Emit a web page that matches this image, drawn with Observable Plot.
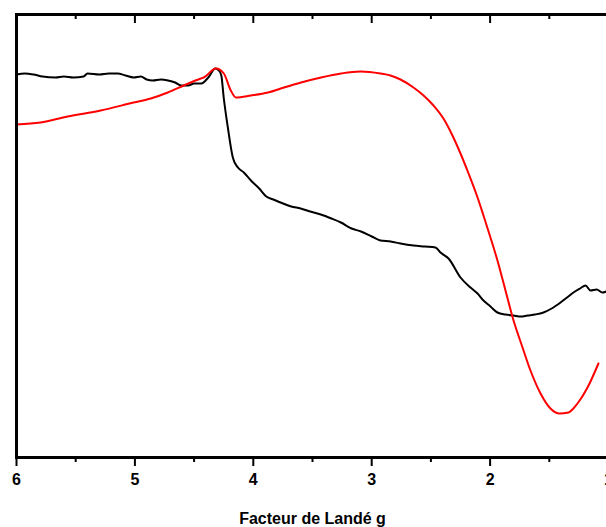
<!DOCTYPE html>
<html><head><meta charset="utf-8">
<script src="https://cdn.jsdelivr.net/npm/d3@7"></script>
<script src="https://cdn.jsdelivr.net/npm/@observablehq/plot@0.6"></script>
<style>
body{margin:0;overflow:hidden;background:#fff}
#chart{width:606px;height:527px;overflow:hidden}
#chart svg{max-width:none !important}
</style>
</head><body><div id="chart"></div>
<script>
const blackG = [6.00,5.93,5.856,5.78,5.67,5.60,5.52,5.433,5.40,5.30,5.22,5.146,5.08,5.01,4.95,4.90,4.85,4.78,4.72,4.66,4.61,4.55,4.50,4.44,4.38,4.32,4.29,4.27,4.25,4.215,4.173,4.13,4.08,4.02,3.95,3.89,3.83,3.77,3.68,3.60,3.52,3.43,3.34,3.26,3.17,3.09,3.00,2.926,2.84,2.757,2.647,2.55,2.461,2.419,2.351,2.25,2.166,2.106,2.056,1.997,1.938,1.87,1.802,1.74,1.684,1.62,1.549,1.48,1.405,1.35,1.296,1.24,1.194,1.152,1.10,1.051,1.02];
const blackI = [383,384,383,381,380,381,380,381,384,383,384,384,382,380,381,378,377,378,377,375,372,372,374,374,380,389,387,382,360,330,300,290,285,277,269,261,258,255,251,249,246,243,239,235,229,226,221,217,216,214,212,211,210,205,199,180,170,164,157,151,145,143,142,141,142,143,145,149,155,160,165,169,172,167,168,165,166];
const redG = [6.00,5.797,5.569,5.289,5.010,4.866,4.722,4.587,4.443,4.418,4.316,4.249,4.190,4.147,4.020,3.876,3.741,3.597,3.428,3.259,3.095,2.926,2.841,2.757,2.647,2.562,2.478,2.394,2.318,2.250,2.182,2.106,2.056,1.997,1.938,1.870,1.802,1.726,1.659,1.574,1.490,1.414,1.338,1.262,1.177,1.085];
const redI = [333,335,341,347,355,359,365,372,379,380,389,384,367,360,362,365,370,375,380,384,386,384,382,378,370,362,352,339,322,304,284,260,242,220,197,167,137,110,87,64,49,44,45,54,70,94];
const majorTicks = [6,5,4,3,2,1];
const minorTicks = [5.5,4.5,3.5,2.5,1.5];
const xLabel = "Facteur de Landé g";

const black = blackG.map((g,i)=>({g, v: blackI[i]}));
const red = redG.map((g,i)=>({g, v: redI[i]}));

const chart = Plot.plot({
  width: 640, height: 527,
  marginLeft: 16, marginRight: 32, marginTop: 14, marginBottom: 70,
  style: {fontFamily: "'Liberation Sans', Arial, sans-serif", fontWeight: "bold", background: "#fff", maxWidth: "none"},
  x: {domain: [6,1], labelArrow: "none"},
  y: {domain: [0,443], axis: null},
  marks: [
    Plot.line(black, {x: "g", y: "v", stroke: "black", strokeWidth: 2, curve: "monotone-x"}),
    Plot.line(red, {x: "g", y: "v", stroke: "#ff0000", strokeWidth: 2, curve: "monotone-x"}),
    Plot.frame({stroke: "black", strokeWidth: 3}),
    Plot.axisX(majorTicks, {anchor: "bottom", tickSize: 9, tickPadding: 7, strokeWidth: 2, fontSize: 16, tickFormat: d => String(d), label: xLabel, labelArrow: "none", labelAnchor: "center", labelOffset: 66}),
    Plot.axisX(minorTicks, {anchor: "bottom", tickSize: 5, strokeWidth: 2, tickFormat: () => "", label: null}),
    Plot.axisX(majorTicks, {anchor: "top", tickSize: -8, strokeWidth: 2, tickFormat: () => "", label: null}),
    Plot.axisX(minorTicks, {anchor: "top", tickSize: -4, strokeWidth: 2, tickFormat: () => "", label: null})
  ]
});
document.getElementById("chart").appendChild(chart);
</script>
</body></html>
